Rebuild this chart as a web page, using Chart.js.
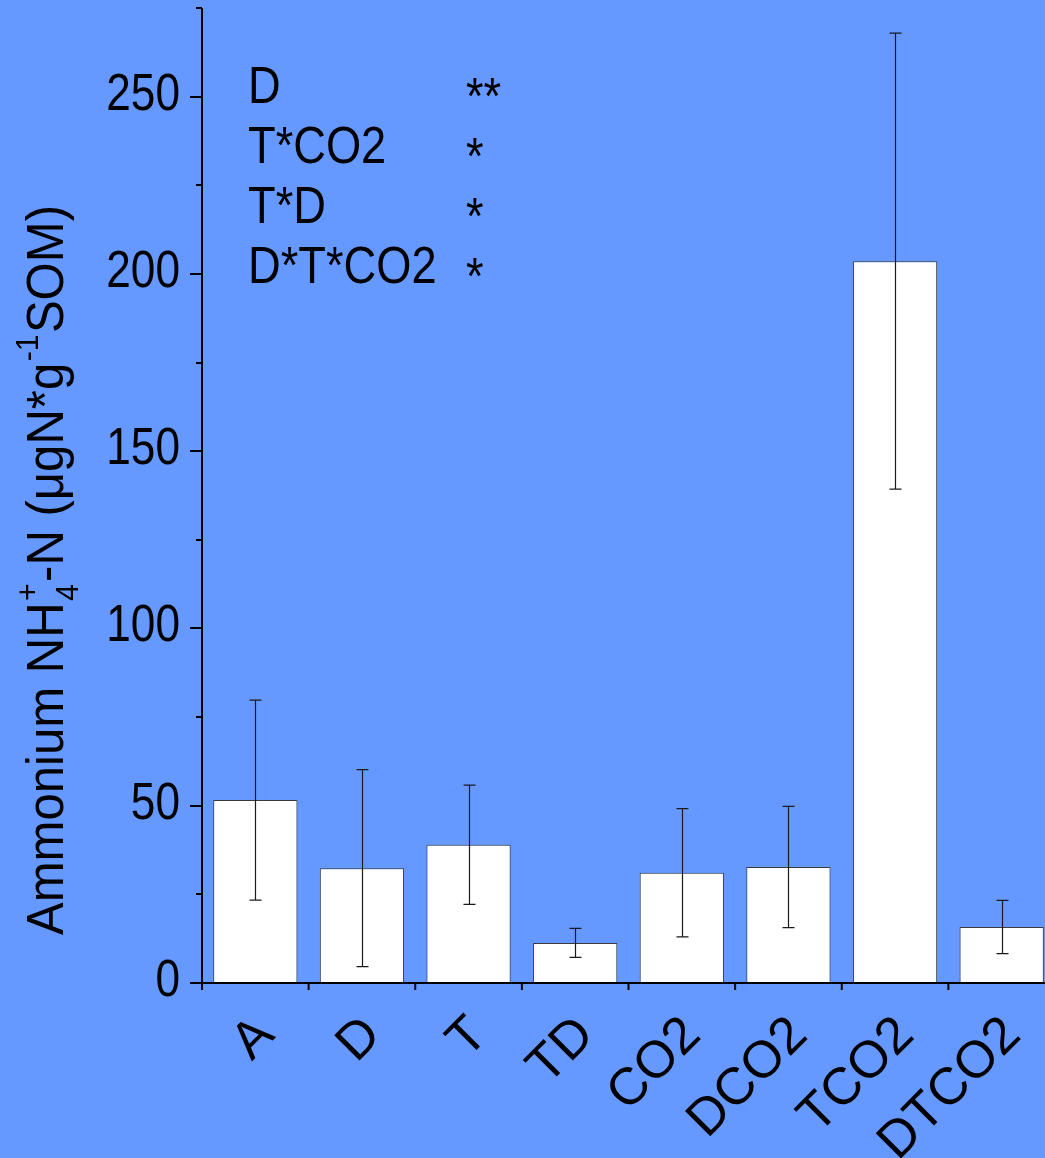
<!DOCTYPE html>
<html lang="en">
<head>
  <meta charset="UTF-8" />
  <title>Ammonium NH4+-N</title>
  <script src="https://cdn.jsdelivr.net/npm/chart.js"></script>
  <style>
    html, body { margin: 0; padding: 0; overflow: hidden; background: #6699ff; }
    #wrap { width: 1056px; height: 1158px; }
  </style>
</head>
<body>
  <div id="wrap"><canvas id="nh4Chart" width="1056" height="1158"></canvas></div>

  <script>
    // data
    const treatments = ["A", "D", "T", "TD", "CO2", "DCO2", "TCO2", "DTCO2"];
    const nh4Mean = [51.6, 32.4, 39.0, 11.3, 31.1, 32.7, 203.6, 15.8];
    const nh4Err = [28.2, 27.8, 16.8, 4.1, 18.1, 17.1, 64.3, 7.5];
    const yMax = 275;
    const effects = ["D", "T*CO2", "T*D", "D*T*CO2"];
    const effectStars = ["**", "*", "*", "*"];

    const FONT = '"Liberation Sans", Arial, sans-serif';

    function drawTitle(ctx) {
      const big = "52px " + FONT, small = "32px " + FONT;
      const segs = [
        { t: "Ammonium NH", f: big, dy: 0 },
        { t: "4", f: small, dy: 15, stack: "+" },
        { t: "-N (\u03bcgN*g", f: big, dy: 0 },
        { t: "-1", f: small, dy: -25 },
        { t: "SOM)", f: big, dy: 0 }
      ];
      let total = 0;
      segs.forEach(s => {
        ctx.font = s.f;
        s.w = ctx.measureText(s.t).width + (s.f === small ? 3 : 0);
        if (s.stack) s.w = Math.max(s.w, ctx.measureText(s.stack).width + 3);
        total += s.w;
      });
      const k = 730 / total;
      ctx.save();
      ctx.translate(63, 570);
      ctx.rotate(-Math.PI / 2);
      ctx.scale(k, 1);
      ctx.fillStyle = "#000";
      ctx.textAlign = "left";
      ctx.textBaseline = "alphabetic";
      let cx = -total / 2;
      segs.forEach(s => {
        ctx.font = s.f;
        ctx.fillText(s.t, cx + (s.f === small ? 1.5 : 0), s.dy);
        if (s.stack) ctx.fillText(s.stack, cx + 1.5, -25);
        cx += s.w;
      });
      ctx.restore();
    }

    const figurePlugin = {
      id: "figure",
      afterDatasetsDraw(chart) {
        const ctx = chart.ctx;
        const xs = chart.scales.x, ys = chart.scales.y;
        const area = chart.chartArea;
        ctx.save();

        // error bars
        ctx.strokeStyle = "#1a1a1a";
        ctx.lineWidth = 1.2;
        nh4Mean.forEach((m, i) => {
          const cx = Math.round(xs.getPixelForValue(i)) + 0.5;
          const top = ys.getPixelForValue(m + nh4Err[i]);
          const bot = ys.getPixelForValue(m - nh4Err[i]);
          ctx.beginPath();
          ctx.moveTo(cx, top); ctx.lineTo(cx, bot);
          ctx.moveTo(cx - 6, top); ctx.lineTo(cx + 6, top);
          ctx.moveTo(cx - 6, bot); ctx.lineTo(cx + 6, bot);
          ctx.stroke();
        });

        // axis lines
        ctx.strokeStyle = "#000";
        ctx.lineWidth = 2;
        ctx.beginPath();
        ctx.moveTo(area.left, area.top);
        ctx.lineTo(area.left, area.bottom);
        ctx.moveTo(area.left - 12, area.bottom);
        ctx.lineTo(area.right, area.bottom);
        ctx.stroke();

        // y ticks (major every 50, minor between)
        ys.ticks.forEach(t => {
          const py = Math.round(ys.getPixelForValue(t.value));
          const len = t.value % 50 === 0 ? 12 : 6;
          ctx.beginPath();
          ctx.moveTo(area.left - len, py);
          ctx.lineTo(area.left, py);
          ctx.stroke();
        });

        // x ticks at category boundaries
        for (let i = 0; i <= treatments.length; i++) {
          const px = xs.getPixelForValue(i - 0.5);
          ctx.beginPath();
          ctx.moveTo(px, area.bottom);
          ctx.lineTo(px, area.bottom + 7);
          ctx.stroke();
        }

        ctx.fillStyle = "#000";
        ctx.font = "52px " + FONT;

        // y tick labels
        ctx.textAlign = "right";
        ctx.textBaseline = "alphabetic";
        ys.ticks.forEach(t => {
          if (t.value % 50 !== 0) return;
          const py = ys.getPixelForValue(t.value);
          ctx.save();
          ctx.translate(180, py + 13);
          ctx.scale(0.85, 1);
          ctx.fillText(String(t.value), 0, 0);
          ctx.restore();
        });

        // x tick labels, rotated 45 degrees
        treatments.forEach((lab, i) => {
          const px = xs.getPixelForValue(i);
          ctx.save();
          ctx.translate(px + 21, area.bottom + 54);
          ctx.rotate(-Math.PI / 4);
          ctx.textAlign = "right";
          ctx.fillText(lab, 0, 0);
          ctx.restore();
        });

        // significance notes
        ctx.textAlign = "left";
        effects.forEach((e, i) => {
          const by = 103 + i * 60;
          ctx.save();
          ctx.translate(248, by);
          ctx.scale(0.87, 1);
          ctx.fillText(e, 0, 0);
          ctx.restore();
          ctx.save();
          ctx.translate(466, by + 11);
          ctx.scale(0.87, 1);
          ctx.fillText(effectStars[i], 0, 0);
          ctx.restore();
        });

        drawTitle(ctx);
        ctx.restore();
      }
    };

    new Chart(document.getElementById("nh4Chart"), {
      type: "bar",
      data: {
        labels: treatments,
        datasets: [{
          data: nh4Mean,
          backgroundColor: "#ffffff",
          borderColor: "#3a3a3a",
          borderWidth: 1,
          barPercentage: 0.79,
          categoryPercentage: 1
        }]
      },
      options: {
        responsive: false,
        animation: false,
        devicePixelRatio: 1,
        layout: { padding: { top: 8, right: 1, left: 0, bottom: 0 } },
        plugins: { legend: { display: false }, tooltip: { enabled: false } },
        scales: {
          x: {
            grid: { display: false },
            border: { display: false },
            ticks: { display: false },
            afterFit: s => { s.height = 175; }
          },
          y: {
            min: 0,
            max: yMax,
            grid: { display: false },
            border: { display: false },
            ticks: { display: false, stepSize: 25 },
            afterFit: s => { s.width = 202; }
          }
        }
      },
      plugins: [figurePlugin]
    });
  </script>
</body>
</html>
